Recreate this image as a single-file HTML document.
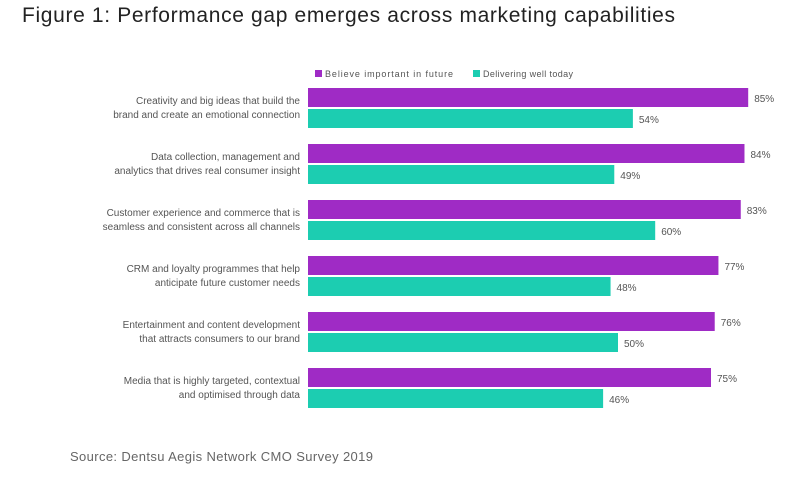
<!DOCTYPE html>
<html><head><meta charset="utf-8"><style>
body{margin:0;background:#fff;width:799px;height:483px;overflow:hidden;font-family:"Liberation Sans",sans-serif}
</style></head><body>
<svg width="799" height="483">
<text x="22" y="22" font-size="21" fill="#222" textLength="653" lengthAdjust="spacing">Figure 1: Performance gap emerges across marketing capabilities</text>
<g>
<rect x="315" y="70" width="7" height="7" fill="#9f2bc5"/>
<text x="325" y="77" font-size="9" fill="#555" textLength="128" lengthAdjust="spacing">Believe important in future</text>
<rect x="473" y="70" width="7" height="7" fill="#1ccdb1"/>
<text x="483" y="77" font-size="9" fill="#555" textLength="90" lengthAdjust="spacing">Delivering well today</text>
</g>
<g id="bars"></g>
<text x="70" y="461" font-size="13" fill="#666" textLength="303" lengthAdjust="spacing">Source: Dentsu Aegis Network CMO Survey 2019</text>
</svg>
<script>
const categories=[["Creativity and big ideas that build the","brand and create an emotional connection"],["Data collection, management and","analytics that drives real consumer insight"],["Customer experience and commerce that is","seamless and consistent across all channels"],["CRM and loyalty programmes that help","anticipate future customer needs"],["Entertainment and content  development","that attracts consumers to our brand"],["Media that is highly targeted, contextual","and optimised through data"]];
const futureValues=[85,84,83,77,76,75];
const todayValues=[54,49,60,48,50,46];
const NS="http://www.w3.org/2000/svg";
const g=document.getElementById('bars');
const x0=308;
function xv(v){return 432+v*3.72;}
function yg(i){return 88+i*56;}
function mk(t,a){const e=document.createElementNS(NS,t);for(const k in a)e.setAttribute(k,a[k]);g.appendChild(e);return e;}
categories.forEach((c,i)=>{
 const y=yg(i);
 const r1=mk('rect',{x:x0,y:y,width:xv(futureValues[i])-x0,height:19,fill:'#9f2bc5'});
 
 
 const r2=mk('rect',{x:x0,y:y+21,width:xv(todayValues[i])-x0,height:19,fill:'#1ccdb1'});
 
 
 const t1=mk('text',{x:xv(futureValues[i])+6,y:y+14,'font-size':10,fill:'#555'});t1.textContent=futureValues[i]+'%';
 
 
 const t2=mk('text',{x:xv(todayValues[i])+6,y:y+35,'font-size':10,fill:'#555'});t2.textContent=todayValues[i]+'%';
 
 
 const l=mk('text',{x:300,y:y+16,'font-size':10,fill:'#555','text-anchor':'end'});
 
 
 c.forEach((s,j)=>{const ts=document.createElementNS(NS,'tspan');ts.setAttribute('x',300);ts.setAttribute('dy',j?14:0);ts.textContent=s;l.appendChild(ts);});
});
</script>
</body></html>
